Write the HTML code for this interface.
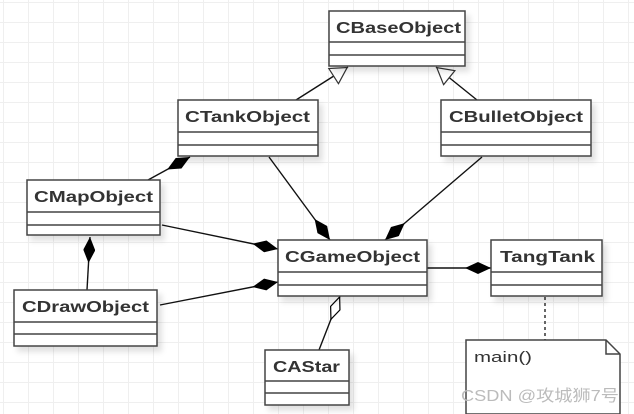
<!DOCTYPE html>
<html><head><meta charset="utf-8"><style>
html,body{margin:0;padding:0;background:#fff;}
svg{display:block}
text{font-family:"Liberation Sans",sans-serif;font-weight:bold;font-size:16px;fill:#333}
</style></head><body>
<svg width="634" height="414" viewBox="0 0 634 414" xmlns="http://www.w3.org/2000/svg">
<defs>
<pattern id="g" x="3" y="2" width="25" height="20" patternUnits="userSpaceOnUse">
<path d="M0 0V20M0 0H25" stroke="#efefef" stroke-width="2" fill="none"/>
</pattern>
<marker id="fd" viewBox="0 0 26 12" refX="0" refY="6" markerWidth="26" markerHeight="12" markerUnits="userSpaceOnUse" orient="auto">
<path d="M0 6L13 0L26 6L13 12Z" fill="#000"/></marker>
<marker id="hd" viewBox="0 0 26 12" refX="0" refY="6" markerWidth="26" markerHeight="12" markerUnits="userSpaceOnUse" orient="auto">
<path d="M1 6L13 1L25 6L13 11Z" fill="#fff" stroke="#000" stroke-width="1.2"/></marker>
<marker id="tr" viewBox="0 0 18 20" refX="0" refY="10" markerWidth="18" markerHeight="20" markerUnits="userSpaceOnUse" orient="auto">
<path d="M1 10L17 1L17 19Z" fill="#fff" stroke="#333" stroke-width="1.2"/></marker>
<filter id="sh" x="-10%" y="-10%" width="130%" height="140%"><feDropShadow dx="4" dy="5" stdDeviation="3" flood-color="#000" flood-opacity="0.12"/></filter>
</defs>
<rect width="634" height="414" fill="#fff"/>
<rect width="634" height="414" fill="url(#g)"/>
<g stroke="#111" stroke-width="1.4" fill="none">
<line x1="348" y1="67" x2="296" y2="100" marker-start="url(#tr)"/>
<line x1="436" y1="67" x2="477" y2="100" marker-start="url(#tr)"/>
<line x1="190" y1="157" x2="148" y2="180" marker-start="url(#fd)"/>
<line x1="330" y1="240" x2="269" y2="157" marker-start="url(#fd)"/>
<line x1="385" y1="240" x2="482" y2="157" marker-start="url(#fd)"/>
<line x1="278" y1="249" x2="162" y2="225" marker-start="url(#fd)"/>
<line x1="278" y1="282" x2="160" y2="305" marker-start="url(#fd)"/>
<line x1="90" y1="237" x2="87" y2="290" marker-start="url(#fd)"/>
<line x1="491" y1="268" x2="427" y2="268" marker-start="url(#fd)"/>
<line x1="340" y1="296" x2="319" y2="350" marker-start="url(#hd)"/>
<line x1="545" y1="297" x2="545" y2="340" stroke="#666" stroke-width="2" stroke-dasharray="3,3"/>
</g>
<g stroke="#444" stroke-width="1.5" fill="#fff">
<g filter="url(#sh)">
<rect x="329" y="11" width="136" height="55"/>
<rect x="178" y="100" width="140" height="56"/>
<rect x="441" y="100" width="150" height="56"/>
<rect x="27" y="180" width="133" height="55"/>
<rect x="14" y="290" width="143" height="56"/>
<rect x="278" y="240" width="149" height="56"/>
<rect x="491" y="240" width="111" height="56"/>
<rect x="265" y="350" width="84" height="55"/>
</g>
<path d="M329 42H465M329 55H465 M178 132H318M178 145H318 M441 132H591M441 145H591 M27 212H160M27 225H160 M14 322H157M14 334H157 M278 272H427M278 285H427 M491 272H602M491 285H602 M265 381H349M265 393H349" fill="none"/>
<path d="M466 340H606L620 354V414H466Z"/>
<path d="M606 340V354H620" fill="none"/>
</g>
<text x="336" y="33" textLength="125" lengthAdjust="spacingAndGlyphs">CBaseObject</text>
<text x="185" y="122" textLength="125" lengthAdjust="spacingAndGlyphs">CTankObject</text>
<text x="449" y="122" textLength="134" lengthAdjust="spacingAndGlyphs">CBulletObject</text>
<text x="34" y="202" textLength="119" lengthAdjust="spacingAndGlyphs">CMapObject</text>
<text x="22" y="312" textLength="127" lengthAdjust="spacingAndGlyphs">CDrawObject</text>
<text x="285" y="262" textLength="135" lengthAdjust="spacingAndGlyphs">CGameObject</text>
<text x="500" y="262" textLength="95" lengthAdjust="spacingAndGlyphs">TangTank</text>
<text x="273" y="372" textLength="67" lengthAdjust="spacingAndGlyphs">CAStar</text>
<text x="474" y="362" textLength="58" lengthAdjust="spacingAndGlyphs" style="font-weight:normal;font-size:15px">main()</text>
<text x="461" y="401" textLength="158" lengthAdjust="spacingAndGlyphs" style="font-weight:normal;font-size:16px;fill:#bbb;font-family:'Liberation Sans','Noto Sans CJK SC',sans-serif">CSDN @攻城狮7号</text>
</svg>
</body></html>
